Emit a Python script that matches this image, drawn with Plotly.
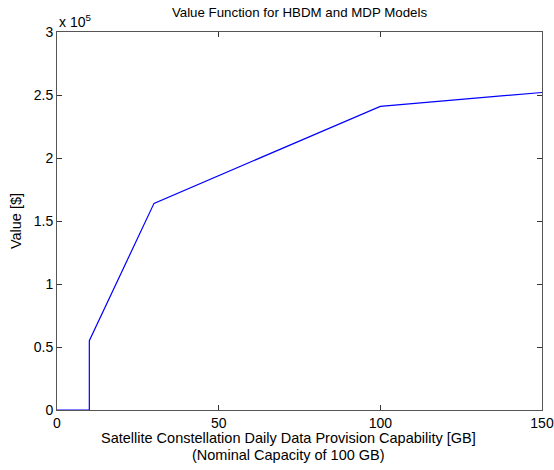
import plotly.graph_objects as go

capacity_gb = [0, 10, 10, 30, 100, 150]
value_usd = [0, 0, 55000, 164000, 241000, 252000]

x_ticks = [0, 50, 100, 150]
y_ticks = [0, 50000, 100000, 150000, 200000, 250000, 300000]
y_tick_labels = ["0", "0.5", "1", "1.5", "2", "2.5", "3"]

x_title_lines = ["Satellite Constellation Daily Data Provision Capability [GB]",
                 "(Nominal Capacity of 100 GB)"]

font_family = "Liberation Sans, Arial, Helvetica, sans-serif"

fig = go.Figure()
fig.add_trace(go.Scatter(
    x=capacity_gb, y=value_usd, mode="lines",
    line=dict(color="#0000ff", width=1.2),
    showlegend=False,
))

axis_common = dict(
    showgrid=False, zeroline=False, showline=True, linecolor="#555555",
    linewidth=1, mirror="ticks", ticks="inside", ticklen=5,
    tickcolor="#333333", tickfont=dict(size=14, color="#000000"),
    automargin=False,
)

annotations = [dict(text="x 10<sup>5</sup>", xref="paper", yref="paper",
                    x=0, y=1, xanchor="left", yanchor="bottom",
                    showarrow=False, font=dict(size=14))]
for i, line in enumerate(x_title_lines):
    annotations.append(dict(text=line, xref="paper", yref="paper",
                            x=0.478, y=0, xanchor="center", yanchor="middle",
                            yshift=-28 - 17 * i, showarrow=False,
                            font=dict(size=14.5)))

fig.update_layout(
    width=554, height=470,
    margin=dict(l=57, r=12, t=32, b=60),
    paper_bgcolor="white", plot_bgcolor="white",
    font=dict(family=font_family, color="#000000"),
    title=dict(text="Value Function for HBDM and MDP Models",
               x=0.5, xref="paper", xanchor="center",
               y=1 - 12 / 470, yanchor="middle",
               font=dict(size=13.3)),
    xaxis=dict(range=[0, 150], tickvals=x_ticks, **axis_common),
    yaxis=dict(range=[0, 300000], tickvals=y_ticks, ticktext=y_tick_labels,
               title=dict(text="Value [$]", font=dict(size=14.5), standoff=8),
               **axis_common),
    annotations=annotations,
)

fig.write_html("out.html")
